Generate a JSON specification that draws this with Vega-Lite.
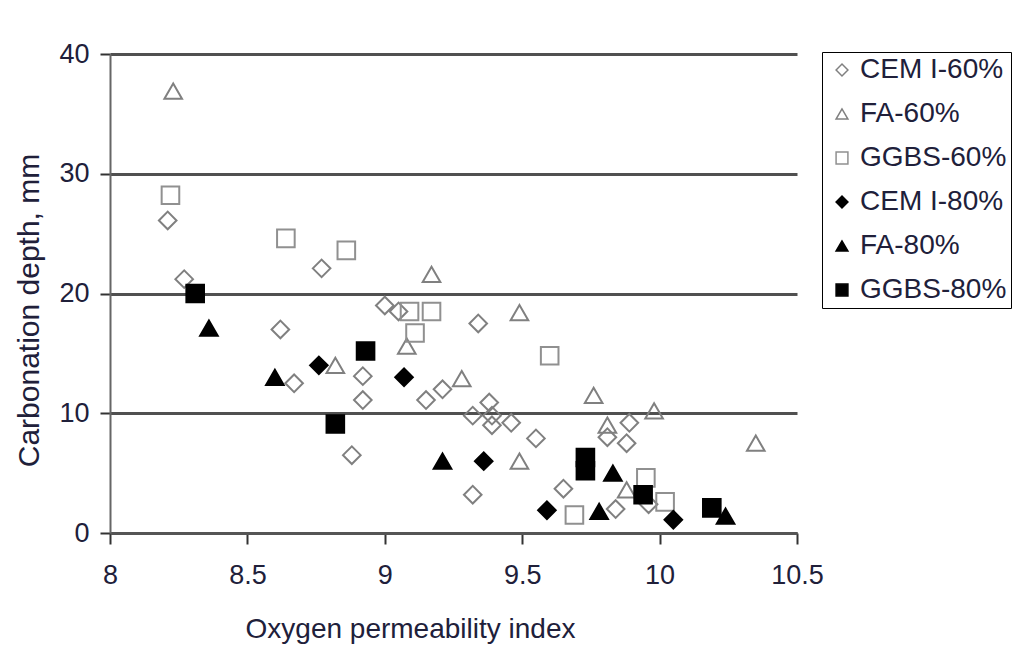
{
  "$schema": "https://vega.github.io/schema/vega-lite/v6.json",
  "autosize": "none",
  "width": 687,
  "height": 479,
  "padding": {"left": 110, "top": 54, "right": 220, "bottom": 137},
  "background": "white",
  "config": {
    "view": {"stroke": null},
    "font": "Liberation Sans"
  },
  "data": {
    "values": [
      {"opi": 8.21, "depth": 26.1, "series": "CEM I-60%"},
      {"opi": 8.27, "depth": 21.2, "series": "CEM I-60%"},
      {"opi": 8.62, "depth": 17.0, "series": "CEM I-60%"},
      {"opi": 8.67, "depth": 12.5, "series": "CEM I-60%"},
      {"opi": 8.77, "depth": 22.1, "series": "CEM I-60%"},
      {"opi": 8.88, "depth": 6.5, "series": "CEM I-60%"},
      {"opi": 8.92, "depth": 11.1, "series": "CEM I-60%"},
      {"opi": 8.92, "depth": 13.1, "series": "CEM I-60%"},
      {"opi": 9.0, "depth": 19.0, "series": "CEM I-60%"},
      {"opi": 9.05, "depth": 18.5, "series": "CEM I-60%"},
      {"opi": 9.15, "depth": 11.1, "series": "CEM I-60%"},
      {"opi": 9.21, "depth": 12.0, "series": "CEM I-60%"},
      {"opi": 9.32, "depth": 3.2, "series": "CEM I-60%"},
      {"opi": 9.34, "depth": 17.5, "series": "CEM I-60%"},
      {"opi": 9.32, "depth": 9.8, "series": "CEM I-60%"},
      {"opi": 9.38, "depth": 10.9, "series": "CEM I-60%"},
      {"opi": 9.39, "depth": 9.8, "series": "CEM I-60%"},
      {"opi": 9.39, "depth": 9.0, "series": "CEM I-60%"},
      {"opi": 9.46, "depth": 9.2, "series": "CEM I-60%"},
      {"opi": 9.55, "depth": 7.9, "series": "CEM I-60%"},
      {"opi": 9.65, "depth": 3.7, "series": "CEM I-60%"},
      {"opi": 9.81, "depth": 8.0, "series": "CEM I-60%"},
      {"opi": 9.84, "depth": 2.0, "series": "CEM I-60%"},
      {"opi": 9.88, "depth": 7.5, "series": "CEM I-60%"},
      {"opi": 9.89, "depth": 9.2, "series": "CEM I-60%"},
      {"opi": 9.96, "depth": 2.4, "series": "CEM I-60%"},
      {"opi": 8.23, "depth": 36.9, "series": "FA-60%"},
      {"opi": 8.82, "depth": 14.0, "series": "FA-60%"},
      {"opi": 9.08, "depth": 15.6, "series": "FA-60%"},
      {"opi": 9.17, "depth": 21.6, "series": "FA-60%"},
      {"opi": 9.28, "depth": 12.9, "series": "FA-60%"},
      {"opi": 9.49, "depth": 18.4, "series": "FA-60%"},
      {"opi": 9.49, "depth": 6.0, "series": "FA-60%"},
      {"opi": 9.76, "depth": 11.5, "series": "FA-60%"},
      {"opi": 9.81, "depth": 9.0, "series": "FA-60%"},
      {"opi": 9.98, "depth": 10.2, "series": "FA-60%"},
      {"opi": 10.35, "depth": 7.5, "series": "FA-60%"},
      {"opi": 9.88, "depth": 3.6, "series": "FA-60%"},
      {"opi": 8.22, "depth": 28.2, "series": "GGBS-60%"},
      {"opi": 8.64, "depth": 24.6, "series": "GGBS-60%"},
      {"opi": 8.86, "depth": 23.6, "series": "GGBS-60%"},
      {"opi": 9.09, "depth": 18.5, "series": "GGBS-60%"},
      {"opi": 9.17, "depth": 18.5, "series": "GGBS-60%"},
      {"opi": 9.11, "depth": 16.7, "series": "GGBS-60%"},
      {"opi": 9.6, "depth": 14.8, "series": "GGBS-60%"},
      {"opi": 9.69, "depth": 1.5, "series": "GGBS-60%"},
      {"opi": 9.95, "depth": 4.6, "series": "GGBS-60%"},
      {"opi": 10.02, "depth": 2.6, "series": "GGBS-60%"},
      {"opi": 8.76, "depth": 14.0, "series": "CEM I-80%"},
      {"opi": 9.07, "depth": 13.0, "series": "CEM I-80%"},
      {"opi": 9.36, "depth": 6.0, "series": "CEM I-80%"},
      {"opi": 9.59, "depth": 1.9, "series": "CEM I-80%"},
      {"opi": 10.05, "depth": 1.1, "series": "CEM I-80%"},
      {"opi": 8.36, "depth": 17.1, "series": "FA-80%"},
      {"opi": 8.6, "depth": 13.0, "series": "FA-80%"},
      {"opi": 9.21, "depth": 6.0, "series": "FA-80%"},
      {"opi": 9.78, "depth": 1.8, "series": "FA-80%"},
      {"opi": 9.83, "depth": 5.0, "series": "FA-80%"},
      {"opi": 10.24, "depth": 1.4, "series": "FA-80%"},
      {"opi": 8.31, "depth": 20.0, "series": "GGBS-80%"},
      {"opi": 8.82, "depth": 9.1, "series": "GGBS-80%"},
      {"opi": 8.93, "depth": 15.2, "series": "GGBS-80%"},
      {"opi": 9.73, "depth": 6.3, "series": "GGBS-80%"},
      {"opi": 9.73, "depth": 5.2, "series": "GGBS-80%"},
      {"opi": 9.94, "depth": 3.2, "series": "GGBS-80%"},
      {"opi": 10.19, "depth": 2.1, "series": "GGBS-80%"}
    ]
  },
  "mark": {"type": "point", "size": 310, "strokeWidth": 2, "opacity": 1},
  "encoding": {
    "x": {
      "field": "opi", "type": "quantitative",
      "scale": {"domain": [8, 10.5], "nice": false, "zero": false},
      "axis": {
        "title": "Oxygen permeability index",
        "values": [8, 8.5, 9, 9.5, 10, 10.5],
        "format": "~g",
        "grid": false,
        "domainColor": "#555555", "domainWidth": 3,
        "tickColor": "#333333", "tickWidth": 2, "tickSize": 11,
        "labelFontSize": 27, "labelColor": "#20203a", "labelPadding": 18,
        "labelFlush": false,
        "titleFontSize": 28, "titleFontWeight": "normal", "titleColor": "#20203a",
        "titleX": 300, "titleY": 104, "titleBaseline": "alphabetic", "titleAlign": "center"
      }
    },
    "y": {
      "field": "depth", "type": "quantitative",
      "scale": {"domain": [0, 40], "nice": false},
      "axis": {
        "title": "Carbonation depth, mm",
        "values": [0, 10, 20, 30, 40],
        "grid": true, "gridColor": "#505050", "gridWidth": 3,
        "domainColor": "#666666", "domainWidth": 2,
        "tickColor": "#333333", "tickWidth": 2, "tickSize": 10,
        "labelFontSize": 27, "labelColor": "#20203a", "labelPadding": 11,
        "labelFlush": false,
        "titleFontSize": 30, "titleFontWeight": "normal", "titleColor": "#20203a",
        "titleX": -72, "titleY": 256, "titleBaseline": "alphabetic", "titleAlign": "center", "titleAngle": -90
      }
    },
    "shape": {
      "field": "series", "type": "nominal",
      "scale": {
        "domain": ["CEM I-60%", "FA-60%", "GGBS-60%", "CEM I-80%", "FA-80%", "GGBS-80%"],
        "range": ["diamond", "triangle-up", "square", "diamond", "triangle-up", "square"]
      },
      "legend": {
        "title": null, "orient": "none", "legendX": 712, "legendY": -2,
        "strokeColor": "#000000", "padding": 4,
        "symbolSize": 140, "symbolStrokeWidth": 1.5, "symbolOffset": 2,
        "labelFontSize": 28, "labelColor": "#20203a", "labelOffset": 4,
        "rowPadding": 16, "labelLimit": 300
      }
    },
    "fill": {
      "field": "series", "type": "nominal",
      "scale": {
        "domain": ["CEM I-60%", "FA-60%", "GGBS-60%", "CEM I-80%", "FA-80%", "GGBS-80%"],
        "range": ["transparent", "transparent", "transparent", "#000000", "#000000", "#000000"]
      }
    },
    "stroke": {
      "field": "series", "type": "nominal",
      "scale": {
        "domain": ["CEM I-60%", "FA-60%", "GGBS-60%", "CEM I-80%", "FA-80%", "GGBS-80%"],
        "range": ["#808080", "#808080", "#909090", "#000000", "#000000", "#000000"]
      }
    }
  }
}
